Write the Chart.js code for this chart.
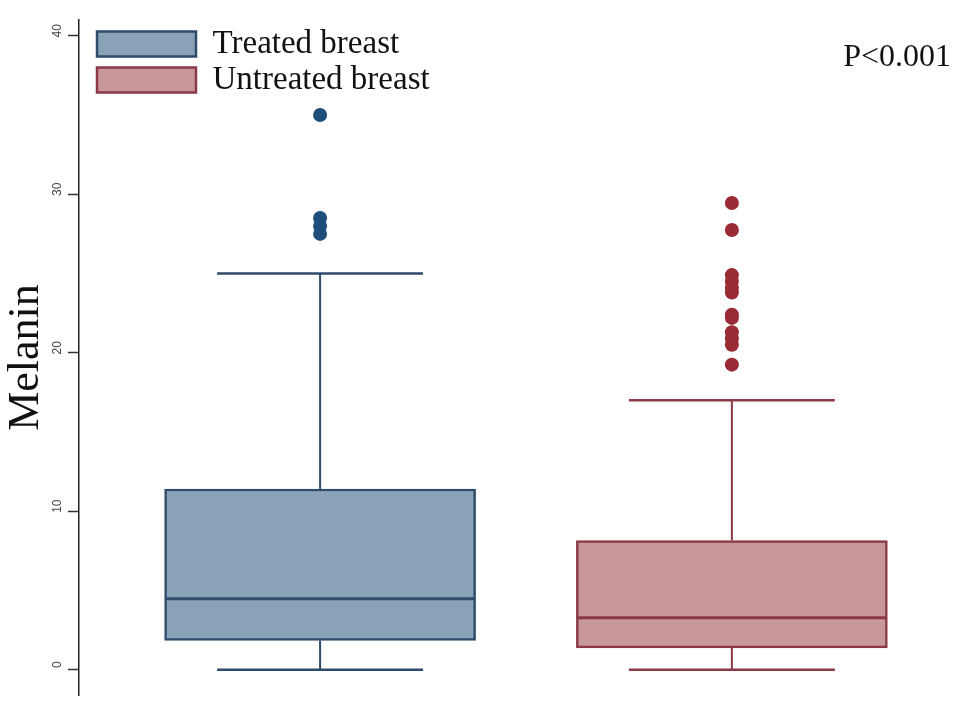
<!DOCTYPE html>
<html>
<head>
<meta charset="utf-8">
<script src="https://cdn.jsdelivr.net/npm/chart.js@4/dist/chart.umd.min.js"></script>
<style>
  html, body { margin: 0; padding: 0; background: #ffffff; overflow: hidden; }
  #wrap { width: 974px; height: 702px; overflow: hidden; }
  canvas { display: block; }
</style>
</head>
<body>
<div id="wrap"><canvas id="c" width="974" height="702"></canvas></div>
<script>
// ---- data ----
const groups = ['Treated breast', 'Untreated breast'];
const groupPos = [1, 2];
const q1 = [1.84, 1.37];
const medians = [4.47, 3.28];
const q3 = [11.4, 8.15];
const whiskerLow = [0, 0];
const whiskerHigh = [25, 17];
const outliersTreated = [35, 28.5, 28.0, 27.5];
const outliersUntreated = [29.45, 27.75, 24.9, 24.5, 24.1, 23.8, 22.4, 22.2, 21.3, 20.9, 20.5, 19.25];
const yTicks = [0, 10, 20, 30, 40];
const pValueText = 'P<0.001';
const yTitle = 'Melanin';

// ---- styles ----
const fills = ['#8aa2b7', '#c8979b'];
const borders = ['#2e4b6b', '#8b3a45'];
const pointColors = ['#1f4e7a', '#9a2b35'];
const serif = "'Liberation Serif', 'Times New Roman', serif";

const boxPlugin = {
  id: 'boxWhiskers',
  afterLayout(chart) {
    const lg = chart.legend;
    if (lg) {
      lg.left = chart.chartArea.left + 15;
      lg.top = chart.chartArea.top + 4.5;
    }
  },
  afterDatasetsDraw(chart) {
    const ctx = chart.ctx, xs = chart.scales.x, ys = chart.scales.y;
    const capHalf = 0.25, boxHalf = 0.375;
    ctx.save();
    groups.forEach((g, i) => {
      const xc = xs.getPixelForValue(groupPos[i]);
      ctx.strokeStyle = borders[i];
      ctx.lineCap = 'butt';
      ctx.lineWidth = 2;
      ctx.beginPath();
      ctx.moveTo(xc, ys.getPixelForValue(q3[i]));
      ctx.lineTo(xc, ys.getPixelForValue(whiskerHigh[i]));
      ctx.moveTo(xc, ys.getPixelForValue(q1[i]));
      ctx.lineTo(xc, ys.getPixelForValue(whiskerLow[i]));
      ctx.stroke();
      ctx.lineWidth = 2.5;
      ctx.beginPath();
      [whiskerHigh[i], whiskerLow[i]].forEach(v => {
        const yp = ys.getPixelForValue(v);
        ctx.moveTo(xs.getPixelForValue(groupPos[i] - capHalf), yp);
        ctx.lineTo(xs.getPixelForValue(groupPos[i] + capHalf), yp);
      });
      ctx.stroke();
      ctx.lineWidth = 3;
      ctx.beginPath();
      const ym = ys.getPixelForValue(medians[i]);
      ctx.moveTo(xs.getPixelForValue(groupPos[i] - boxHalf), ym);
      ctx.lineTo(xs.getPixelForValue(groupPos[i] + boxHalf), ym);
      ctx.stroke();
    });
    ctx.restore();
  },
  afterDraw(chart) {
    const ctx = chart.ctx;
    ctx.save();
    ctx.font = '32px ' + serif;
    ctx.fillStyle = '#111';
    ctx.textAlign = 'right';
    ctx.textBaseline = 'alphabetic';
    ctx.fillText(pValueText, chart.chartArea.right - 16, chart.chartArea.top + 46);
    ctx.restore();
  }
};

const datasets = groups.map((g, i) => ({
  type: 'bar',
  label: g,
  data: [{ x: groupPos[i], y: [q1[i], q3[i]] }],
  backgroundColor: fills[i],
  borderColor: borders[i],
  borderWidth: 2.5,
  borderSkipped: false,
  grouped: false,
  barThickness: 311,
  order: 2
}));
datasets.push({
  type: 'scatter',
  label: 'out1',
  data: outliersTreated.map(v => ({ x: groupPos[0], y: v })),
  backgroundColor: pointColors[0],
  borderColor: pointColors[0],
  pointRadius: 7,
  borderWidth: 0,
  order: 1
});
datasets.push({
  type: 'scatter',
  label: 'out2',
  data: outliersUntreated.map(v => ({ x: groupPos[1], y: v })),
  backgroundColor: pointColors[1],
  borderColor: pointColors[1],
  pointRadius: 7,
  borderWidth: 0,
  order: 1
});

new Chart(document.getElementById('c'), {
  type: 'bar',
  data: { datasets },
  plugins: [boxPlugin],
  options: {
    responsive: false,
    animation: false,
    layout: { padding: { top: 20, bottom: 0, left: 0, right: 0 } },
    plugins: {
      tooltip: { enabled: false },
      legend: {
        position: 'chartArea',
        align: 'start',
        labels: {
          filter: (item) => item.datasetIndex < 2,
          boxWidth: 99,
          boxHeight: 25,
          padding: 3,
          color: '#111',
          font: { family: serif, size: 33 }
        }
      }
    },
    scales: {
      x: {
        type: 'linear',
        display: false,
        offset: false,
        grid: { offset: false },
        min: 0.4145,
        max: 2.571
      },
      y: {
        type: 'linear',
        min: -1.6,
        max: 41,
        afterFit(scale) {
          scale.width = 79;
          scale.paddingTop = 0;
          scale.paddingBottom = 0;
        },
        afterBuildTicks(scale) { scale.ticks = yTicks.map(v => ({ value: v })); },
        title: {
          display: true,
          text: yTitle,
          color: '#111',
          padding: 0,
          font: { family: serif, size: 44 }
        },
        border: { display: true, color: '#222', width: 1.5 },
        grid: {
          display: true,
          drawOnChartArea: false,
          drawTicks: true,
          tickLength: 11,
          tickColor: '#333',
          tickWidth: 1.5
        },
        ticks: {
          minRotation: 90,
          maxRotation: 90,
          crossAlign: 'center',
          padding: 4,
          labelOffset: -5,
          color: '#444',
          font: { family: "'Liberation Sans', Arial, sans-serif", size: 12 }
        }
      }
    }
  }
});
</script>
</body>
</html>
